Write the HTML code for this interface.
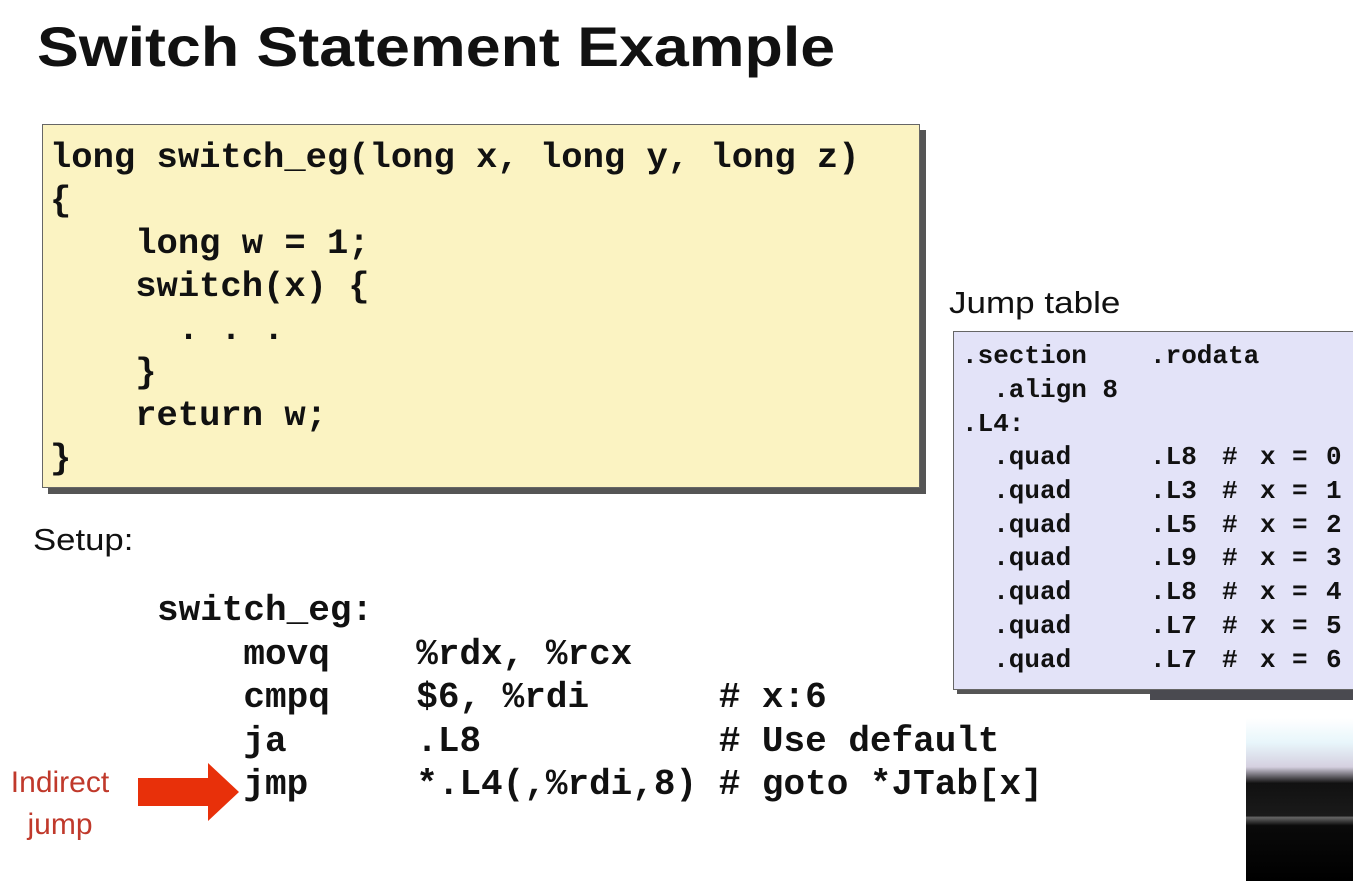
<!DOCTYPE html>
<html><head><style>
body{margin:0;width:1353px;height:881px;background:#fff;position:relative;overflow:hidden;font-family:"Liberation Sans",sans-serif}
.t{position:absolute;left:37px;top:14px;font-size:56px;font-weight:bold;color:#111;transform-origin:0 0;transform:scaleX(1.12)}
.m{font-family:"Liberation Mono",monospace;font-weight:bold;white-space:pre;color:#111;position:absolute;margin:0}
.b1{position:absolute;left:42px;top:124px;width:876px;height:362px;background:#fbf3c2;border:1px solid #666;box-shadow:6px 6px 0 #555}
.b2{position:absolute;left:953px;top:331px;width:410px;height:357px;background:#e3e3f8;border:1px solid #666;box-shadow:4px 4px 0 #555}
.jt{position:absolute;left:962px;font-family:"Liberation Mono",monospace;font-weight:bold;font-size:26px;color:#111;white-space:pre}
.jt span{position:absolute;top:0}
</style></head><body>
<div class="t">Switch Statement Example</div>
<div class="b1"></div>
<pre class="m" style="left:50px;top:136px;font-size:35.5px;line-height:43px">long switch_eg(long x, long y, long z)
{
    long w = 1;
    switch(x) {
      . . .
    }
    return w;
}</pre>
<div style="position:absolute;left:949px;top:285px;font-size:31px;color:#111;transform-origin:0 0;transform:scaleX(1.13)">Jump table</div>
<div class="b2"></div>
<div class="jt" style="top:341px">.section<span style="left:188px">.rodata</span></div>
<div class="jt" style="top:375px">  .align 8</div>
<div class="jt" style="top:409px">.L4:</div>
<div class="jt" style="top:442px">  .quad<span style="left:188px">.L8</span><span style="left:260px">#</span><span style="left:298px">x</span><span style="left:330px">=</span><span style="left:364px">0</span></div>
<div class="jt" style="top:476px">  .quad<span style="left:188px">.L3</span><span style="left:260px">#</span><span style="left:298px">x</span><span style="left:330px">=</span><span style="left:364px">1</span></div>
<div class="jt" style="top:510px">  .quad<span style="left:188px">.L5</span><span style="left:260px">#</span><span style="left:298px">x</span><span style="left:330px">=</span><span style="left:364px">2</span></div>
<div class="jt" style="top:543px">  .quad<span style="left:188px">.L9</span><span style="left:260px">#</span><span style="left:298px">x</span><span style="left:330px">=</span><span style="left:364px">3</span></div>
<div class="jt" style="top:577px">  .quad<span style="left:188px">.L8</span><span style="left:260px">#</span><span style="left:298px">x</span><span style="left:330px">=</span><span style="left:364px">4</span></div>
<div class="jt" style="top:611px">  .quad<span style="left:188px">.L7</span><span style="left:260px">#</span><span style="left:298px">x</span><span style="left:330px">=</span><span style="left:364px">5</span></div>
<div class="jt" style="top:645px">  .quad<span style="left:188px">.L7</span><span style="left:260px">#</span><span style="left:298px">x</span><span style="left:330px">=</span><span style="left:364px">6</span></div>
<div style="position:absolute;left:33px;top:522px;font-size:31px;color:#111;transform-origin:0 0;transform:scaleX(1.12)">Setup:</div>
<pre class="m" style="left:157px;top:589px;font-size:36px;line-height:43.5px">switch_eg:
    movq    %rdx, %rcx
    cmpq    $6, %rdi      # x:6
    ja      .L8           # Use default
    jmp     *.L4(,%rdi,8) # goto *JTab[x]</pre>
<div style="position:absolute;left:0px;top:762px;font-size:30px;line-height:42px;color:#c0392b;text-align:center;width:120px">Indirect<br>jump</div>
<svg style="position:absolute;left:137px;top:762px" width="104" height="60"><polygon points="1,16 71,16 71,1 102,30 71,59 71,44 1,44" fill="#e8300a"/></svg>
<div style="position:absolute;left:1150px;top:690px;width:203px;height:10px;background:#4a4a50"></div>
<div style="position:absolute;left:1246px;top:718px;width:107px;height:163px;background:linear-gradient(#fff,#e8f6fb 15%,#d5d0e0 30%,#111 40%,#1a1a1a 60%,#666 61%,#0a0a0a 66%,#000)"></div>
</body></html>
